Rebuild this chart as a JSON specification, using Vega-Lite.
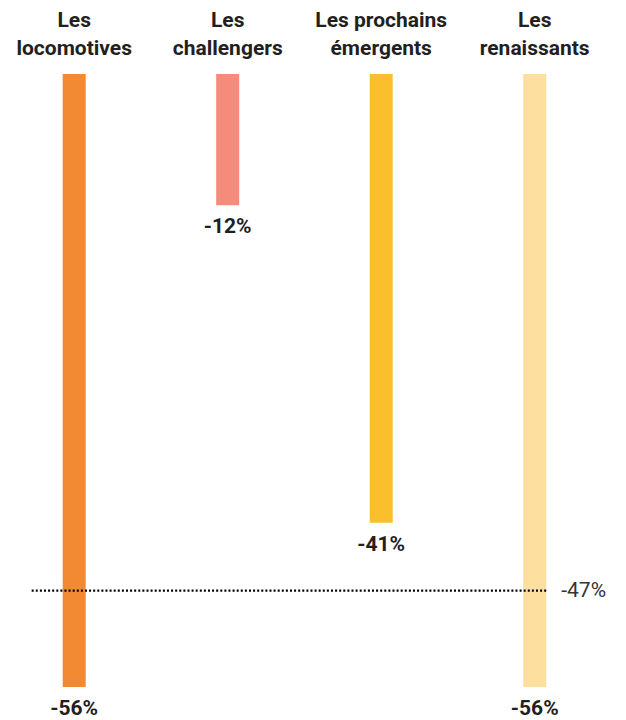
{
  "$schema": "https://vega.github.io/schema/vega-lite/v6.json",
  "width": 626,
  "height": 613,
  "autosize": {"type": "none"},
  "padding": {"top": 74, "left": 0, "right": 0, "bottom": 33},
  "background": "white",
  "config": {"view": {"stroke": null}, "text": {"font": "Roboto"}},
  "datasets": {
    "groupes": [
      {"groupe": "Les locomotives", "titre": "Les\nlocomotives", "valeur": -56, "label": "-56%"},
      {"groupe": "Les challengers", "titre": "Les\nchallengers", "valeur": -12, "label": "-12%"},
      {"groupe": "Les prochains émergents", "titre": "Les prochains\némergents", "valeur": -41, "label": "-41%"},
      {"groupe": "Les renaissants", "titre": "Les\nrenaissants", "valeur": -56, "label": "-56%"}
    ],
    "moyenne": [
      {"debut": "Les locomotives", "fin": "Les renaissants", "valeur": -47.2, "label": "-47%"}
    ]
  },
  "layer": [
    {
      "data": {"name": "groupes"},
      "mark": {"type": "bar"},
      "encoding": {
        "x": {"field": "groupe", "type": "nominal", "sort": null,
              "scale": {"domain": ["Les locomotives", "Les challengers", "Les prochains émergents", "Les renaissants"], "paddingInner": 0.85, "paddingOuter": 0.464, "align": 0.44},
              "axis": null},
        "y": {"field": "valeur", "type": "quantitative", "scale": {"domain": [-56, 0], "nice": false, "zero": true}, "axis": null},
        "color": {"field": "groupe", "type": "nominal", "sort": null,
                  "scale": {"domain": ["Les locomotives", "Les challengers", "Les prochains émergents", "Les renaissants"], "range": ["#F28A33", "#F58B7B", "#FBBF2D", "#FDE0A0"]},
                  "legend": null}
      }
    },
    {
      "data": {"name": "groupes"},
      "mark": {"type": "text", "baseline": "middle", "align": "center", "dy": 22, "fontSize": 21, "fontWeight": "bold", "color": "#231F20"},
      "encoding": {
        "x": {"field": "groupe", "type": "nominal", "sort": null},
        "y": {"field": "valeur", "type": "quantitative"},
        "text": {"field": "label"}
      }
    },
    {
      "data": {"name": "groupes"},
      "mark": {"type": "text", "baseline": "bottom", "align": "center", "dy": -43, "fontSize": 21, "fontWeight": "bold", "color": "#231F20", "lineBreak": "\n", "lineHeight": 28},
      "encoding": {
        "x": {"field": "groupe", "type": "nominal", "sort": null},
        "y": {"datum": 0, "type": "quantitative"},
        "text": {"field": "titre"}
      }
    },
    {
      "data": {"name": "moyenne"},
      "mark": {"type": "rule", "color": "#000000", "strokeWidth": 2.2, "strokeDash": [2, 2.1], "xOffset": -31},
      "encoding": {
        "x": {"field": "debut", "type": "nominal", "bandPosition": 0},
        "x2": {"field": "fin", "bandPosition": 1},
        "y": {"field": "valeur", "type": "quantitative"}
      }
    },
    {
      "data": {"name": "moyenne"},
      "mark": {"type": "text", "baseline": "middle", "align": "left", "dx": 15, "fontSize": 21, "fontWeight": "normal", "color": "#333333"},
      "encoding": {
        "x": {"field": "fin", "type": "nominal", "bandPosition": 1},
        "y": {"field": "valeur", "type": "quantitative"},
        "text": {"field": "label"}
      }
    }
  ]
}
